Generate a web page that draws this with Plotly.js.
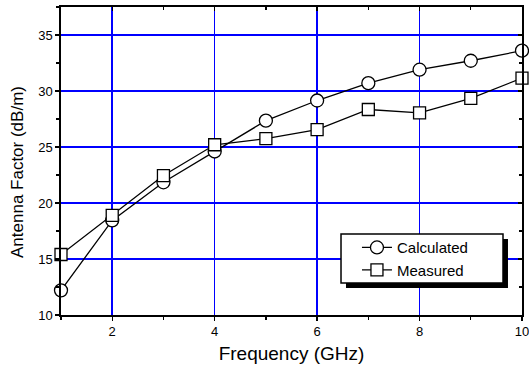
<!DOCTYPE html>
<html>
<head>
<meta charset="utf-8">
<script src="https://cdn.plot.ly/plotly-3.0.1.min.js"></script>
<style>
html,body{margin:0;padding:0;background:#fff;}
#chart{width:529px;height:371px;}
</style>
</head>
<body>
<div id="chart"></div>
<script>
var frequency = [1, 2, 3, 4, 5, 6, 7, 8, 9, 10];
var calculated = [12.2, 18.45, 21.85, 24.6, 27.35, 29.15, 30.7, 31.9, 32.7, 33.6];
var measured = [15.4, 18.9, 22.45, 25.2, 25.75, 26.55, 28.35, 28.05, 29.35, 31.15];
var seriesNames = ['Calculated', 'Measured'];
var xTickVals = [2, 4, 6, 8, 10];
var yTickVals = [10, 15, 20, 25, 30, 35];
var xTitle = 'Frequency (GHz)';
var yTitle = 'Antenna Factor (dB/m)';

var FONT = '"Liberation Sans", Arial, sans-serif';

var traces = [
  {
    x: frequency, y: calculated, name: seriesNames[0], type: 'scatter', mode: 'lines+markers',
    line: {color: '#000', width: 1.3},
    marker: {symbol: 'circle', size: 13, color: '#fff', line: {color: '#000', width: 1.3}},
    cliponaxis: false
  },
  {
    x: frequency, y: measured, name: seriesNames[1], type: 'scatter', mode: 'lines+markers',
    line: {color: '#000', width: 1.3},
    marker: {symbol: 'square', size: 12, color: '#fff', line: {color: '#000', width: 1.3}},
    cliponaxis: false
  },
  {x: [], y: [], xaxis: 'x2', yaxis: 'y2', showlegend: false, hoverinfo: 'skip', type: 'scatter'}
];

// legend frame (paper coords) and its drop shadow
var frame = {x0: 0.6074, x1: 0.9588, y0: 0.1039, y1: 0.263};
var sh = {dx: 0.0108, dy: 0.0162};

var layout = {
  width: 529, height: 371,
  margin: {l: 61, r: 7, t: 7, b: 56},
  paper_bgcolor: '#fff', plot_bgcolor: '#fff',
  font: {family: FONT, color: '#000', size: 13},
  showlegend: true,
  legend: {
    x: 0.642, y: 0.272, xanchor: 'left', yanchor: 'top',
    bgcolor: 'rgba(0,0,0,0)', borderwidth: 0,
    font: {family: FONT, size: 15, color: '#000'},
    tracegroupgap: 0
  },
  shapes: [
    {type: 'rect', xref: 'paper', yref: 'paper', x0: frame.x0 + sh.dx, x1: frame.x1 + sh.dx,
      y0: frame.y0 - sh.dy, y1: frame.y1 - sh.dy, fillcolor: '#000', line: {width: 0}, layer: 'above'},
    {type: 'rect', xref: 'paper', yref: 'paper', x0: frame.x0, x1: frame.x1,
      y0: frame.y0, y1: frame.y1, fillcolor: '#fff', line: {width: 1.5, color: '#000'}, layer: 'above'}
  ],
  annotations: [{
    text: yTitle, xref: 'paper', yref: 'paper', x: 0, y: 0.5, xanchor: 'center', yanchor: 'middle',
    xshift: -44, yshift: -11, textangle: -90, showarrow: false,
    font: {family: FONT, size: 17, color: '#000'}
  }],
  xaxis: {
    range: [1, 10], tickvals: xTickVals, ticks: 'outside', ticklen: 4, tickwidth: 1.3, tickcolor: '#000',
    minor: {dtick: 1, tick0: 1, ticks: 'outside', ticklen: 3, tickwidth: 1.3, tickcolor: '#000', showgrid: false},
    showgrid: true, gridcolor: '#0000ff', gridwidth: 1.5,
    showline: true, linecolor: '#000', linewidth: 1.7, mirror: true, zeroline: false,
    tickfont: {size: 13, family: FONT}, ticklabeloverflow: 'allow',
    title: {text: xTitle, font: {size: 19, family: FONT}, standoff: 8}
  },
  yaxis: {
    range: [10, 37.5], tickvals: yTickVals, ticks: 'outside', ticklen: 4, tickwidth: 1.3, tickcolor: '#000',
    minor: {dtick: 2.5, tick0: 10, ticks: 'outside', ticklen: 3, tickwidth: 1.3, tickcolor: '#000', showgrid: false},
    showgrid: true, gridcolor: '#0000ff', gridwidth: 1.5,
    showline: true, linecolor: '#000', linewidth: 1.7, mirror: true, zeroline: false,
    tickfont: {size: 13, family: FONT}
  },
  xaxis2: {
    overlaying: 'x', side: 'top', range: [1, 10], tickvals: xTickVals, ticks: 'inside', ticklen: 4,
    tickwidth: 1.3, tickcolor: '#000', showticklabels: false, showgrid: false, zeroline: false, showline: false,
    minor: {dtick: 1, tick0: 1, ticks: 'inside', ticklen: 3, tickwidth: 1.3, tickcolor: '#000', showgrid: false}
  },
  yaxis2: {
    overlaying: 'y', side: 'right', range: [10, 37.5], tickvals: yTickVals, ticks: 'inside', ticklen: 4,
    tickwidth: 1.3, tickcolor: '#000', showticklabels: false, showgrid: false, zeroline: false, showline: false,
    minor: {dtick: 2.5, tick0: 10, ticks: 'inside', ticklen: 3, tickwidth: 1.3, tickcolor: '#000', showgrid: false}
  }
};

Plotly.newPlot('chart', traces, layout, {staticPlot: true, displayModeBar: false});
</script>
</body>
</html>
